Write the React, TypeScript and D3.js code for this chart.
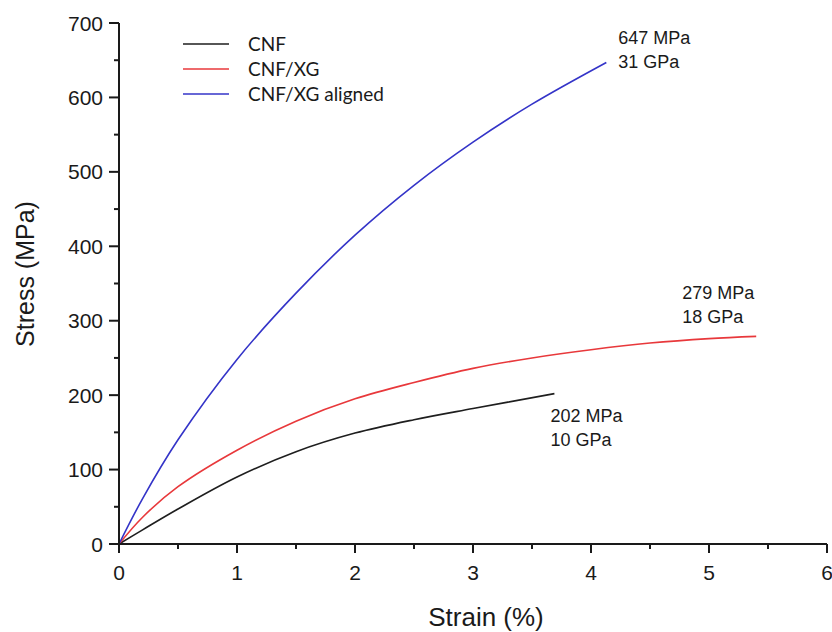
import React from "react";
import * as d3 from "d3";

// CNF
const cnfStrain = [0, 0.2, 0.5, 1.0, 1.5, 2.0, 2.5, 3.0, 3.69];
const cnfStress = [0, 19, 47, 90, 124, 149, 167, 182, 202];

// CNF/XG
const xgStrain = [0, 0.2, 0.5, 1.0, 1.5, 2.0, 2.5, 3.0, 3.5, 4.0, 4.5, 5.0, 5.4];
const xgStress = [0, 36, 77, 126, 165, 195, 217, 236, 250, 261, 270, 276, 279];

// CNF/XG aligned
const alignedStrain = [0, 0.2, 0.5, 1.0, 1.5, 2.0, 2.5, 3.0, 3.5, 4.13];
const alignedStress = [0, 61, 140, 248, 337, 415, 482, 540, 591, 647];

const seriesNames = ["CNF", "CNF/XG", "CNF/XG aligned"];
const seriesColors = ["#1e1e1e", "#e8383b", "#3434c8"];

const xTicks = [0, 1, 2, 3, 4, 5, 6];
const yTicks = [0, 100, 200, 300, 400, 500, 600, 700];

const annotations = [
  { x: 4.13, y: 647, lines: ["647 MPa", "31 GPa"], dx: 12, dy: -18 },
  { x: 5.4, y: 279, lines: ["279 MPa", "18 GPa"], dx: -74, dy: -37 },
  { x: 3.69, y: 202, lines: ["202 MPa", "10 GPa"], dx: -4, dy: 28 },
];

export default function App() {
  const width = 832;
  const height = 632;
  const margin = { top: 23, right: 4, bottom: 88, left: 119 };

  const x = d3
    .scaleLinear()
    .domain([0, 6])
    .range([margin.left, width - margin.right - 1]);
  const y = d3
    .scaleLinear()
    .domain([0, 700])
    .range([height - margin.bottom, margin.top]);

  const series = [
    cnfStrain.map((s, i) => [s, cnfStress[i]]),
    xgStrain.map((s, i) => [s, xgStress[i]]),
    alignedStrain.map((s, i) => [s, alignedStress[i]]),
  ];

  const line = d3
    .line<number[]>()
    .x((d) => x(d[0]))
    .y((d) => y(d[1]))
    .curve(d3.curveCatmullRom.alpha(0.5));

  const xMinor = d3.range(0.5, 6, 1);
  const yMinor = d3.range(50, 700, 100);
  const x0 = x(0);
  const y0 = y(0);

  return (
    <svg width={width} height={height} style={{ display: "block", position: "absolute", left: 0, top: 0 }}>
      <rect width={width} height={height} fill="#fff" />

      {/* curves */}
      {series.map((d, i) => (
        <path
          key={seriesNames[i]}
          d={line(d) || ""}
          fill="none"
          stroke={seriesColors[i]}
          strokeWidth={1.6}
        />
      ))}

      {/* axes */}
      <g stroke="#1a1a1a" strokeWidth={2}>
        <line x1={x0} x2={x(6)} y1={y0} y2={y0} />
        <line x1={x0} x2={x0} y1={y0} y2={y(700)} />
        {xTicks.map((t) => (
          <line key={"xt" + t} x1={x(t)} x2={x(t)} y1={y0} y2={y0 + 9} />
        ))}
        {xMinor.map((t) => (
          <line key={"xm" + t} x1={x(t)} x2={x(t)} y1={y0} y2={y0 + 5} />
        ))}
        {yTicks.map((t) => (
          <line key={"yt" + t} x1={x0} x2={x0 - 10} y1={y(t)} y2={y(t)} />
        ))}
        {yMinor.map((t) => (
          <line key={"ym" + t} x1={x0} x2={x0 - 5} y1={y(t)} y2={y(t)} />
        ))}
      </g>

      <g fontFamily="Liberation Sans, Arial, sans-serif" fontSize={21} fill="#1a1a1a">
        {xTicks.map((t) => (
          <text key={"xl" + t} x={x(t)} y={y0 + 36} textAnchor="middle">
            {t}
          </text>
        ))}
        {yTicks.map((t) => (
          <text key={"yl" + t} x={x0 - 16} y={y(t) + 7.5} textAnchor="end">
            {t}
          </text>
        ))}
      </g>

      {/* axis titles */}
      <text
        x={486}
        y={626}
        textAnchor="middle"
        fontFamily="Liberation Sans, Arial, sans-serif"
        fontSize={26}
        fill="#1a1a1a"
      >
        Strain (%)
      </text>
      <text
        transform={`translate(34,274) rotate(-90)`}
        textAnchor="middle"
        fontFamily="Liberation Sans, Arial, sans-serif"
        fontSize={25}
        fill="#1a1a1a"
      >
        Stress (MPa)
      </text>

      {/* legend */}
      {seriesNames.map((name, i) => (
        <g key={"lg" + name}>
          <line
            x1={183}
            x2={229}
            y1={44 + i * 25}
            y2={44 + i * 25}
            stroke={seriesColors[i]}
            strokeWidth={1.6}
          />
          <text
            x={248}
            y={44 + i * 25 + 7}
            fontFamily="Lato, Open Sans, sans-serif"
            fontSize={19}
            fill="#1a1a1a"
          >
            {name}
          </text>
        </g>
      ))}

      {/* annotations */}
      {annotations.map((a) => (
        <text
          key={a.lines[0]}
          x={x(a.x) + a.dx}
          y={y(a.y) + a.dy}
          fontFamily="Liberation Sans, Arial, sans-serif"
          fontSize={18}
          fill="#1a1a1a"
        >
          {a.lines.map((l, j) => (
            <tspan key={l} x={x(a.x) + a.dx} dy={j === 0 ? 0 : 24}>
              {l}
            </tspan>
          ))}
        </text>
      ))}
    </svg>
  );
}
